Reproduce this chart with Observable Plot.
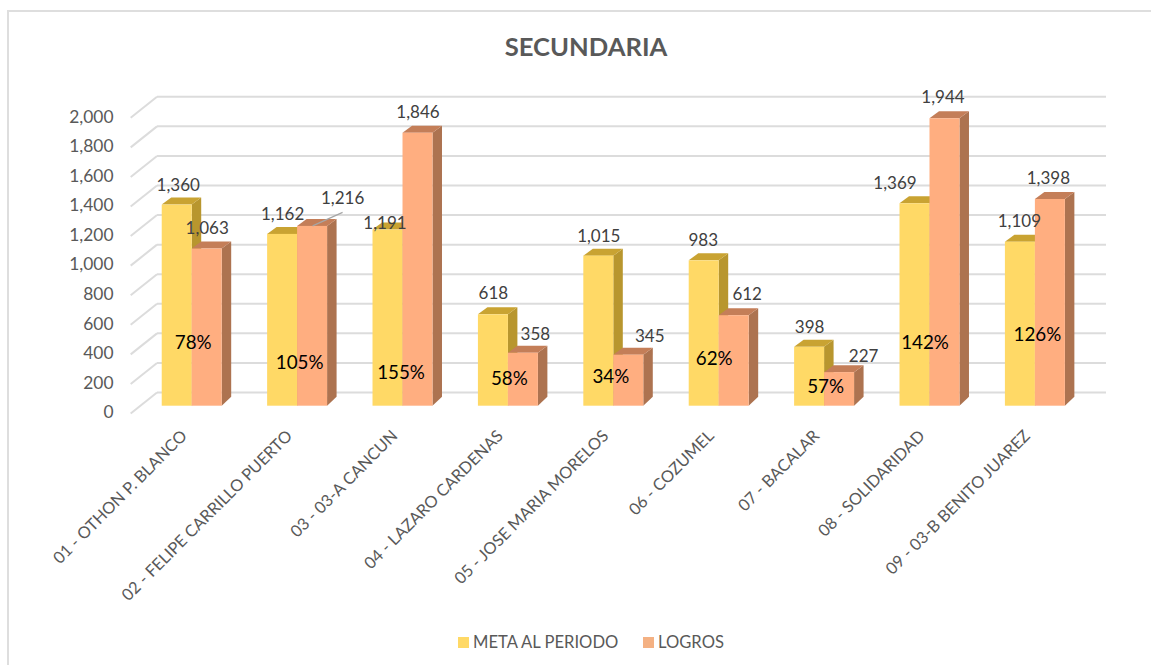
<!DOCTYPE html>
<html lang="es">
<head>
<meta charset="utf-8">
<title>SECUNDARIA</title>
<script src="https://cdn.jsdelivr.net/npm/d3@7"></script>
<script src="https://cdn.jsdelivr.net/npm/@observablehq/plot@0.6"></script>
<style>
  html, body { margin: 0; padding: 0; background: #fff; }
  #page { position: relative; width: 1151px; height: 665px; overflow: hidden; font-family: Lato, sans-serif; }
  #card { position: absolute; left: 7px; top: 10px; right: 0; bottom: 0; border-top: 2px solid #dedede; border-left: 2px solid #dedede; pointer-events: none; }
  #title { position: absolute; left: 0; width: 1172px; top: 29px; text-align: center; font-size: 25.6px; line-height: 34px; font-weight: 700; color: #595959; }
  #chart { position: absolute; left: 0; top: 70px; }
  #chart svg { display: block; background: transparent; }
  .key { position: absolute; top: 632px; font-size: 16.6px; line-height: 20px; color: #595959; white-space: nowrap; }
  .swatch { position: absolute; top: 637px; width: 11px; height: 11px; }
</style>
</head>
<body>
<div id="page">
  <div id="card"></div>
  <div id="title">SECUNDARIA</div>
  <div id="chart"></div>
  <span class="swatch" style="left:458px;background:#FFD966"></span>
  <span class="key" style="left:473px">META AL PERIODO</span>
  <span class="swatch" style="left:643px;background:#F4B183"></span>
  <span class="key" style="left:658px">LOGROS</span>
</div>
<script>
const regions = [
  "01 - OTHON P. BLANCO", "02 - FELIPE CARRILLO PUERTO", "03 - 03-A CANCUN",
  "04 - LAZARO CARDENAS", "05 - JOSE MARIA MORELOS", "06 - COZUMEL",
  "07 - BACALAR", "08 - SOLIDARIDAD", "09 - 03-B BENITO JUAREZ"
];
const series = ["META AL PERIODO", "LOGROS"];
const metaValues = [1360, 1162, 1191, 618, 1015, 983, 398, 1369, 1109];
const logroValues = [1063, 1216, 1846, 358, 345, 612, 227, 1944, 1398];
const percentValues = [78, 105, 155, 58, 34, 62, 57, 142, 126];
const yTicks = [0, 200, 400, 600, 800, 1000, 1200, 1400, 1600, 1800, 2000];

// Hand placement of the labels, as in the source chart.
const percentHeights = [431, 295, 228, 181, 195, 317, 127, 431, 485];
const percentNudgeX = [1, 2, -2, 1, -3, -5, 1, -5, 2];
const metaNudge = [[1,-20],[0,-20],[-3,-7],[0,-21],[0,-20],[-1,-20],[0,-20],[-20,-20],[-1,-21]];
const logroNudge = [[0,-20],[30,-28],[0,-21],[12,-19],[21,-19],[13,-21],[24,-16],[-2,-21],[-2,-21]];

const sideFill = {"#FFD966": "#B8962E", "#FFAE80": "#AD7350"};
const topFill = {"#FFD966": "#C9A332", "#FFAE80": "#C47E58"};
const depthX = 9.5, topRise = 7, baseRise = 9, wallShift = 13.7;
const wallLeft = 157, wallRight = 1106;
const commas = d3.format(",");

const bars = regions.flatMap((region, i) => [
  {region, series: series[0], value: metaValues[i], nudge: metaNudge[i]},
  {region, series: series[1], value: logroValues[i], nudge: logroNudge[i]}
]);
const percents = regions.map((region, i) => ({
  region, text: percentValues[i] + "%", height: percentHeights[i], nudge: percentNudgeX[i]
}));

const svgNS = "http://www.w3.org/2000/svg";
function poly(points, fill) {
  const p = document.createElementNS(svgNS, "polygon");
  p.setAttribute("points", points.map(q => q.join(",")).join(" "));
  p.setAttribute("fill", fill);
  return p;
}

// Adds the side and top faces of each bar from the rect that Plot drew.
function extrude(index, scales, values, dimensions, context, next) {
  const g = next(index, scales, values, dimensions, context);
  for (const r of [...g.querySelectorAll("rect")]) {
    const x1 = +r.getAttribute("x"), w = +r.getAttribute("width");
    const y1 = +r.getAttribute("y"), h = +r.getAttribute("height");
    const x2 = x1 + w, y2 = y1 + h, fill = r.getAttribute("fill");
    r.parentNode.insertBefore(poly([[x2,y1],[x2+depthX,y1-topRise],[x2+depthX,y2-baseRise],[x2,y2]], sideFill[fill]), r);
    r.parentNode.insertBefore(poly([[x1,y1],[x1+depthX,y1-topRise],[x2+depthX,y1-topRise],[x2,y1]], topFill[fill]), r);
  }
  return g;
}

// Stretches the rules of the first facet across the back wall and adds the
// receding left-wall segment of each gridline.
function wallGrid(index, scales, values, dimensions, context, next) {
  const g = next(index, scales, values, dimensions, context);
  const shift = scales.fx(regions[0]) - dimensions.marginLeft;
  for (const l of [...g.querySelectorAll("line")]) {
    const y = +l.getAttribute("y1");
    l.setAttribute("x1", wallLeft - shift);
    l.setAttribute("x2", wallRight - shift);
    const d = l.cloneNode();
    d.setAttribute("x1", wallLeft - shift);
    d.setAttribute("y1", y);
    d.setAttribute("x2", wallLeft - shift - 26.3);
    d.setAttribute("y2", y + 21);
    l.parentNode.appendChild(d);
  }
  return g;
}

// Leader line of the one label that was dragged away from its bar: it runs
// from just under the label back to the top of the bar.
function leader(index, scales, values, dimensions, context, next) {
  const g = next(index, scales, values, dimensions, context);
  const t = g && g.querySelector("text");
  if (!t) return g;
  const m = /translate\(([-\d.]+),\s*([-\d.]+)\)/.exec(t.getAttribute("transform") || "");
  if (!m) return g;
  const X = +m[1], Y = +m[2], nudge = logroNudge[1];
  const l = document.createElementNS(svgNS, "line");
  l.setAttribute("x1", X);
  l.setAttribute("y1", Y + 14);
  l.setAttribute("x2", X - nudge[0]);
  l.setAttribute("y2", Y - nudge[1] - 0.5);
  l.setAttribute("stroke", "#A6A6A6");
  l.setAttribute("stroke-width", 1.2);
  g.appendChild(l);
  return g;
}

const valueLabels = bars.map(d => Plot.text([d], {
  fx: "region", x: "series", y: "value",
  text: t => commas(t.value),
  dx: d.nudge[0], dy: d.nudge[1],
  fontSize: 17, fill: "#404040",
  render: d === bars[3] ? leader : undefined
}));

const percentLabels = percents.map(d => Plot.text([d], {
  fx: "region", y: "height", text: "text", dx: d.nudge,
  fontSize: 18.8, fill: "#000"
}));

const chart = Plot.plot({
  width: 1151,
  height: 540,
  marginTop: 40,
  marginBottom: 204.3,
  marginLeft: wallLeft,
  marginRight: 1151 - wallRight,
  style: {fontFamily: "Lato, sans-serif", background: "transparent"},
  fx: {domain: regions, paddingInner: 0.431, paddingOuter: 0.2175, align: 0.103, round: false, axis: null, label: null},
  x: {domain: series, padding: 0, round: false, axis: null, label: null},
  y: {domain: [0, 2000], axis: null, label: null},
  color: {domain: series, range: ["#FFD966", "#FFAE80"]},
  marks: [
    Plot.ruleY(yTicks, {facetAnchor: "left", dy: -wallShift, stroke: "#DCDCDC", strokeWidth: 2, render: wallGrid}),
    Plot.axisY({ticks: yTicks, facetAnchor: "left", tickSize: 0, tickPadding: 48.7, dy: 6.5, fontSize: 17.4, fill: "#595959", tickFormat: commas, label: null}),
    Plot.barY(bars, {fx: "region", x: "series", y: "value", fill: "series", render: extrude}),
    Plot.axisFx({domain: regions, anchor: "bottom", tickSize: 0, tickPadding: 27, tickRotate: -45, dx: -8, fontSize: 16.4, fill: "#595959", label: null}),
    ...valueLabels,
    ...percentLabels
  ]
});
document.getElementById("chart").appendChild(chart);
</script>
</body>
</html>
